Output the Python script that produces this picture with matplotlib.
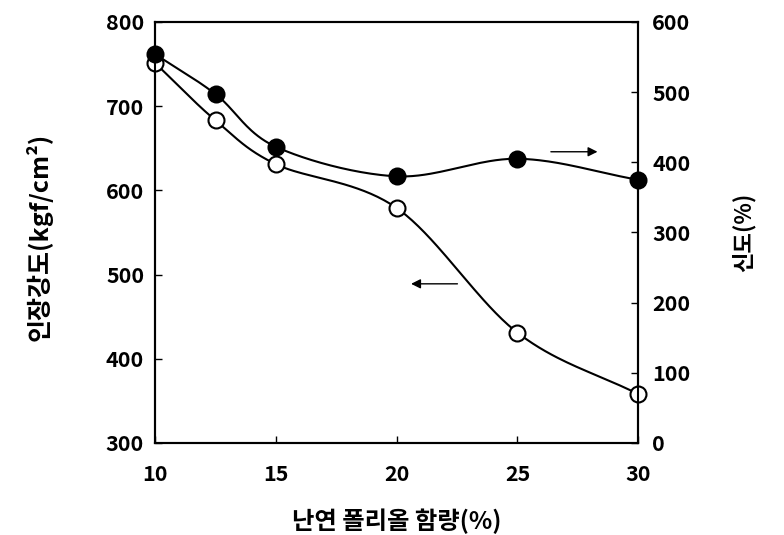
import numpy as np
import matplotlib.pyplot as plt

plt.rcParams['font.family'] = ['Noto Sans CJK KR', 'DejaVu Sans']
plt.rcParams['font.weight'] = 'bold'

# 난연 폴리올 함량(%)
content = [10, 12.5, 15, 20, 25, 30]
tensile = [751, 683, 631, 579, 431, 358]      # 인장강도 (left axis)
elongation = [554, 497, 422, 380, 405, 375]   # 신도 (right axis)

x_ticks = [10, 15, 20, 25, 30]
left_ticks = [300, 400, 500, 600, 700, 800]
right_ticks = [0, 100, 200, 300, 400, 500, 600]


def smooth(xs, ys, xr, yr, n=40):
    # Catmull-Rom through the points, done in normalised axis space
    px = (np.asarray(xs, float) - xr[0]) / (xr[1] - xr[0])
    py = (np.asarray(ys, float) - yr[0]) / (yr[1] - yr[0])
    P = np.column_stack([px, py])
    P = np.vstack([P[0] - (P[1] - P[0]), P, P[-1] + (P[-1] - P[-2])])
    out = []
    t = np.linspace(0, 1, n)[:, None]
    for i in range(1, len(P) - 2):
        p0, p1, p2, p3 = P[i - 1], P[i], P[i + 1], P[i + 2]
        seg = 0.5 * ((2 * p1) + (-p0 + p2) * t + (2 * p0 - 5 * p1 + 4 * p2 - p3) * t ** 2
                     + (-p0 + 3 * p1 - 3 * p2 + p3) * t ** 3)
        out.append(seg)
    out = np.vstack(out)
    return out[:, 0] * (xr[1] - xr[0]) + xr[0], out[:, 1] * (yr[1] - yr[0]) + yr[0]


fig = plt.figure(figsize=(7.84, 5.35), dpi=100)
ax = fig.add_axes([0.198, 0.172, 0.616, 0.787])
ax2 = ax.twinx()

xr = (10, 30)
sx, sy = smooth(content, tensile, xr, (300, 800))
ax.plot(sx, sy, color='black', lw=1.5, zorder=2)
ax.plot(content, tensile, 'o', ms=11.5, mfc='white', mec='black', mew=1.5, zorder=3,
        clip_on=False)

sx2, sy2 = smooth(content, elongation, xr, (0, 600))
ax2.plot(sx2, sy2, color='black', lw=1.5, zorder=2)
ax2.plot(content, elongation, 'o', ms=11.5, mfc='black', mec='black', mew=1.5, zorder=3,
         clip_on=False)

ax.set_xlim(*xr)
ax.set_ylim(300, 800)
ax2.set_ylim(0, 600)

ax.set_xticks(x_ticks)
ax.set_yticks(left_ticks)
ax2.set_yticks(right_ticks)

for a in (ax, ax2):
    for s in a.spines.values():
        s.set_linewidth(1.5)
        s.set_color('black')

ax.tick_params(axis='x', direction='in', length=5, width=1, labelsize=15.5, pad=15)
ax.tick_params(axis='y', direction='in', length=5, width=1, labelsize=15.5, pad=8)
ax2.tick_params(axis='y', direction='in', length=5, width=1, labelsize=15.5, pad=10)
for lab in ax.get_xticklabels() + ax.get_yticklabels() + ax2.get_yticklabels():
    lab.set_fontweight('bold')

ax.set_xlabel('난연 폴리올 함량(%)', fontsize=17.5, fontweight='bold')
ax.set_ylabel('인장강도(kgf/cm²)', fontsize=18, fontweight='bold')
ax2.set_ylabel('신도(%)', fontsize=16, fontweight='bold')
ax.xaxis.set_label_coords(0.5, -0.155)
ax.yaxis.set_label_coords(-0.213, 0.49)
ax2.yaxis.set_label_coords(1.195, 0.5)

# arrows pointing to the relevant axis
ax.annotate('', xy=(20.48, 489), xytext=(22.63, 489),
            arrowprops=dict(arrowstyle='-|>', color='black', lw=1, mutation_scale=14))
ax2.annotate('', xy=(28.43, 415), xytext=(26.27, 415),
             arrowprops=dict(arrowstyle='-|>', color='black', lw=1, mutation_scale=14))

fig.savefig('out.png', dpi=100)
